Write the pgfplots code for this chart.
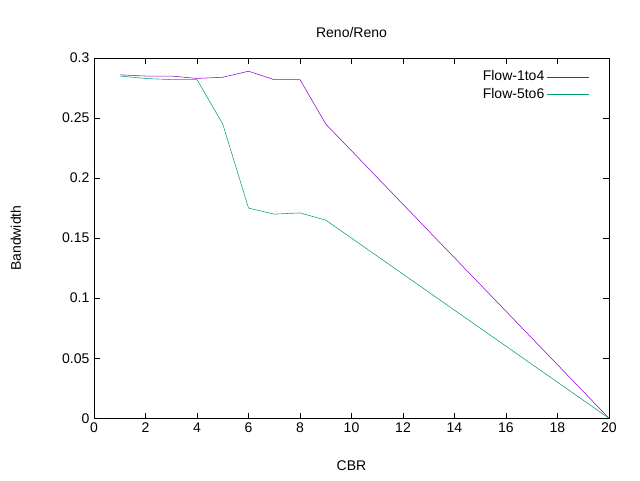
\documentclass[border=0pt]{standalone}
\usepackage{pgfplots}
\pgfplotsset{compat=1.18}
\usepackage{fontspec}
\setmainfont{Liberation Sans}
\definecolor{cA}{HTML}{9400D3}
\definecolor{cB}{HTML}{009E73}
\begin{document}
\begin{tikzpicture}
\useasboundingbox (-70.5pt,-46.5pt) rectangle (409.25pt,313.5pt);
\begin{axis}[at={(0,0)},anchor=south west,scale only axis,width=386pt,height=270pt,
xmin=0,xmax=20,ymin=0,ymax=0.3,
xtick={0,2,...,20},ytick={0,0.05,...,0.3},
yticklabel style={/pgf/number format/fixed,/pgf/number format/precision=2},
/pgf/number format/assume math mode=true,
tick align=inside,tick pos=both,
tick style={black},
font=\fontsize{10.5}{12}\selectfont,
title={Reno/Reno},title style={yshift=6pt},
xlabel={CBR},ylabel={Bandwidth},
xlabel style={yshift=-14pt},ylabel style={yshift=24pt},
legend style={draw=none,fill=none,at={(0.97,0.98)},anchor=north east,font=\fontsize{10.5}{12}\selectfont,
  legend cell align=right},
legend plot pos=right,
legend image code/.code={\draw[#1] (0cm,0cm) -- (1.1cm,0cm);},
]
\addplot[cA,thin] coordinates {(1,0.286)(2,0.285)(3,0.285)(4,0.283)(5,0.284)(6,0.289)(7,0.282)(8,0.282)(9,0.245)(20,0)};
\addlegendentry{Flow-1to4}
\addplot[cB,thin] coordinates {(1,0.285)(2,0.283)(3,0.282)(4,0.282)(5,0.245)(6,0.175)(7,0.170)(8,0.171)(9,0.165)(20,0)};
\addlegendentry{Flow-5to6}
\end{axis}
\end{tikzpicture}
\end{document}
